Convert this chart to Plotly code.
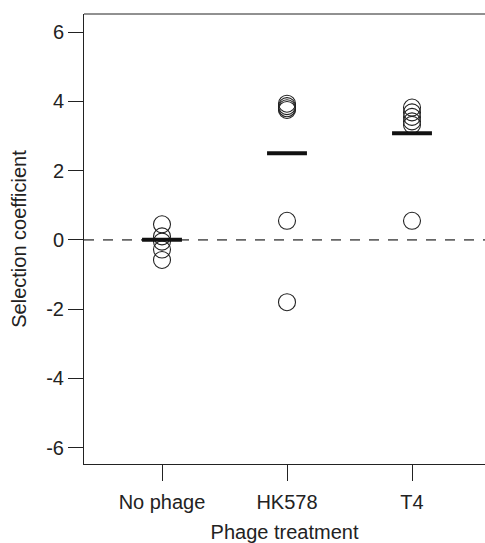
import plotly.graph_objects as go

categories = ["No phage", "HK578", "T4"]
no_phage = [0.45, 0.10, -0.05, -0.28, -0.58]
hk578 = [3.93, 3.86, 3.80, 3.75, 0.55, -1.80]
t4 = [3.82, 3.68, 3.55, 3.42, 3.32, 0.55]
means = [0.0, 2.50, 3.08]
y_ticks = [-6, -4, -2, 0, 2, 4, 6]
y_ticktext = ["-6", "-4", "-2", "0", "2", "4", "6"]

series = [no_phage, hk578, t4]
ink = "#222222"
font = dict(family="Liberation Sans, Arial, sans-serif", size=20, color=ink)

fig = go.Figure()
for i, vals in enumerate(series):
    fig.add_trace(go.Scatter(
        x=[i] * len(vals), y=vals, mode="markers",
        marker=dict(symbol="circle-open", size=17, color=ink, line=dict(width=1.1, color=ink)),
        showlegend=False, hoverinfo="y"))

fig.add_trace(go.Scatter(
    x=list(range(len(categories))), y=means, mode="markers",
    marker=dict(symbol="line-ew", size=28.5, line=dict(width=4, color="#111111")),
    showlegend=False, hoverinfo="y"))

fig.add_shape(type="line", xref="paper", yref="y", x0=0, x1=1, y0=0, y1=0,
              line=dict(color="#666666", width=1.6, dash="10px,9px"), layer="below")
fig.add_shape(type="line", xref="paper", yref="paper", x0=0, x1=1, y0=1, y1=1,
              line=dict(color=ink, width=1))

fig.update_layout(
    width=485, height=543,
    margin=dict(l=84, r=0, t=14, b=79),
    paper_bgcolor="white", plot_bgcolor="white",
    font=font,
    xaxis=dict(range=[-0.624, 2.584], tickmode="array", tickvals=[0, 1, 2], ticktext=categories,
               showgrid=False, zeroline=False, showline=True, linecolor=ink, linewidth=1,
               ticks="outside", ticklen=16, tickwidth=1, tickcolor=ink, ticklabelstandoff=4,
               title=dict(text="Phage treatment", standoff=14, font=font)),
    yaxis=dict(range=[-6.47, 6.52], tickmode="array", tickvals=y_ticks, ticktext=y_ticktext,
               showgrid=False, zeroline=False, showline=True, linecolor=ink, linewidth=1,
               ticks="outside", ticklen=15, tickwidth=1, tickcolor=ink,
               title=dict(text="Selection coefficient", standoff=14, font=font)),
)

fig.write_html("out.html")
